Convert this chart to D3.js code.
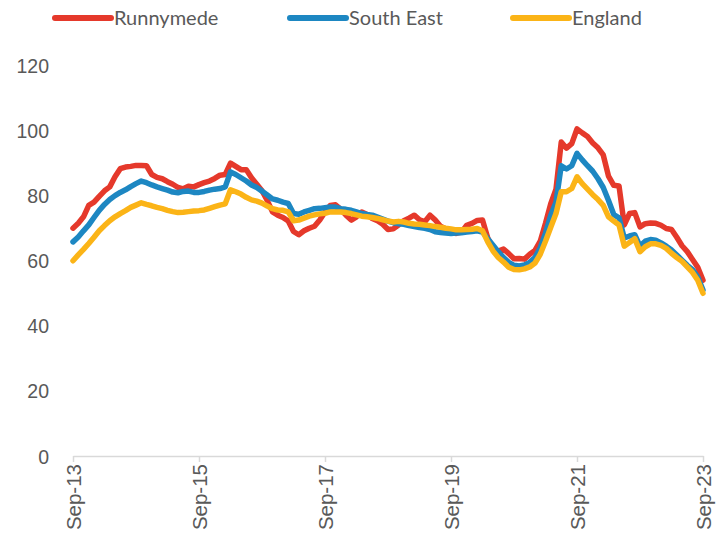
<!DOCTYPE html>
<html>
<head>
<meta charset="utf-8">
<script src="https://cdn.jsdelivr.net/npm/d3@7"></script>
<style>
  body { margin: 0; background: #fff; }
  svg { display: block; font-family: Lato, "Open Sans", sans-serif; }
</style>
</head>
<body>
<svg id="chart" width="724" height="533"></svg>
<script>
// monthly values, Sep-13 .. Sep-23
var seriesNames = ["Runnymede", "South East", "England"];
var seriesColors = ["#e5392b", "#1d87c2", "#fbb417"];

var runnymede = [
  70, 71.5, 73.5, 77, 78, 79.8, 81.5, 82.7, 85.8, 88.3, 88.8, 89, 89.3, 89.3, 89.2, 86.5,
  85.6, 85.2, 84.3, 83.5, 82.5, 82.1, 82.9, 82.7, 83.4, 84, 84.5, 85.3, 86.3, 86.5, 90,
  89, 88, 88, 85.5, 83.5, 81.5, 78.5, 75, 74, 73.3, 72.2, 69, 68, 69.2, 70, 70.6, 72.5,
  75, 77, 77.2, 75.8, 74, 72.5, 73.5, 75, 74.2, 73, 72.3, 71.2, 69.6, 69.8, 71, 72.3,
  73.1, 74, 72.6, 72, 74, 72.5, 70.6, 69.8, 69.1, 68.4, 68.8, 70.9, 71.5, 72.4, 72.5,
  67, 63.8, 63, 63.6, 62.2, 60.6, 60.7, 60.5, 62, 63.2, 66, 71.5, 77.5, 82, 96.5, 94.6,
  96, 100.5, 99.3, 98.2, 96.2, 94.7, 92.5, 86, 83.2, 83, 71, 74.5, 74.8, 70.4, 71.4,
  71.6, 71.5, 70.9, 69.9, 69.6, 67.2, 64.6, 62.8, 60.4, 58, 54
];

var southEast = [
  65.8, 67.3, 69.2, 71, 73.3, 75.5, 77.3, 78.8, 80, 81, 81.8, 82.8, 83.7, 84.5, 84, 83.3,
  82.7, 82.2, 81.7, 81.1, 80.9, 81.3, 81.4, 81, 81, 81.3, 81.7, 82, 82.2, 82.7, 87.3,
  86.5, 85.5, 84.5, 83.3, 82.5, 81.4, 80.2, 79, 78.6, 78, 77.6, 74.5, 74.3, 75, 75.5,
  76, 76.1, 76.3, 76.5, 76.5, 76, 75.8, 75.5, 75, 74.5, 74.2, 74, 73.4, 72.8, 72.2,
  71.7, 71.4, 71.2, 70.8, 70.5, 70.2, 70, 69.6, 68.9, 68.7, 68.5, 68.4, 68.5, 68.6,
  68.8, 69, 69.2, 68.8, 66.8, 64.8, 62.8, 61, 59.5, 58.6, 58.4, 58.7, 59.5, 61, 64,
  68.5, 74, 78, 89.2, 88.2, 89.2, 93, 91, 89.2, 87.5, 85.2, 82.5, 78.5, 74.2, 73.2, 67,
  67.6, 68, 64.5, 66, 66.5, 66.3, 65.5, 64.5, 63.3, 61.8, 60.2, 58.6, 57.3, 55, 51
];

var england = [
  60, 61.8, 63.5, 65.3, 67.2, 69.2, 70.8, 72.3, 73.5, 74.5, 75.4, 76.4, 77.1, 77.8, 77.3,
  76.9, 76.4, 76, 75.5, 75.1, 74.8, 74.9, 75.1, 75.3, 75.4, 75.6, 76.1, 76.6, 77.1, 77.5,
  81.8, 81.2, 80.5, 79.5, 78.7, 78.3, 77.7, 76.8, 76, 75.6, 75.5, 75, 72.3, 72.5, 73.1,
  73.7, 74.1, 74.4, 74.6, 75, 75, 75, 74.8, 74.5, 74.1, 73.7, 73.5, 73.3, 73, 72.6, 72.2,
  71.9, 72.1, 71.9, 71.5, 71.3, 71.2, 71, 70.8, 70.5, 70.3, 70, 69.8, 69.5, 69.5, 69.6,
  69.7, 69.9, 69.2, 65.8, 63, 61, 59.6, 58, 57.3, 57.2, 57.5, 58.1, 59.3, 62, 66, 70.3,
  74.5, 81.2, 81.2, 82.2, 85.8, 83.7, 82, 80.3, 78.8, 77, 73.5, 72.2, 71, 64.5, 65.6,
  66.8, 62.8, 64.3, 65.2, 65.2, 64.7, 63.8, 62.3, 61, 59.8, 58.1, 56.4, 54, 50
];

var yTicks = [0, 20, 40, 60, 80, 100, 120];
var xTickLabels = ["Sep-13", "Sep-15", "Sep-17", "Sep-19", "Sep-21", "Sep-23"];

var allSeries = [runnymede, southEast, england];

var svg = d3.select("#chart");
var textColor = "#595959";

var x = d3.scaleLinear().domain([0, runnymede.length - 1]).range([73, 703]);
var y = d3.scaleLinear().domain([0, 120]).range([456, 65.5]);

// x axis: line + ticks every 24 months
var xAxis = d3.axisBottom(x)
    .tickValues(xTickLabels.map(function(d, i) { return i * 24; }))
    .tickSize(6)
    .tickSizeOuter(0)
    .tickFormat(function(d, i) { return xTickLabels[i]; });

var xg = svg.append("g")
    .attr("transform", "translate(0," + y(0) + ")")
    .call(xAxis);
xg.select(".domain").attr("stroke", "#d9d9d9").attr("stroke-width", 1.5);
xg.selectAll(".tick line").attr("stroke", "#d9d9d9").attr("stroke-width", 1.5);
xg.selectAll(".tick text")
    .attr("fill", textColor)
    .style("font-size", "20.5px")
    .attr("text-anchor", "end")
    .attr("transform", "rotate(-90)")
    .attr("x", -8)
    .attr("y", 0)
    .attr("dy", "0.36em");

// y axis labels only
var yAxis = d3.axisLeft(y).tickValues(yTicks).tickSize(0).tickPadding(0);
var yg = svg.append("g")
    .attr("transform", "translate(49,0)")
    .call(yAxis);
yg.select(".domain").remove();
yg.selectAll(".tick text")
    .attr("fill", textColor)
    .style("font-size", "19.5px")
    .attr("dy", "0.36em");

// lines
var line = d3.line()
    .x(function(d, i) { return x(i); })
    .y(function(d) { return y(d); });

allSeries.forEach(function(s, k) {
  svg.append("path")
      .datum(s)
      .attr("fill", "none")
      .attr("stroke", seriesColors[k])
      .attr("stroke-width", 5.5)
      .attr("stroke-linejoin", "round")
      .attr("stroke-linecap", "round")
      .attr("d", line);
});

// legend
var legendX = [55, 290, 513];
var legend = svg.append("g");
seriesNames.forEach(function(name, k) {
  legend.append("line")
      .attr("x1", legendX[k]).attr("x2", legendX[k] + 56)
      .attr("y1", 18).attr("y2", 18)
      .attr("stroke", seriesColors[k])
      .attr("stroke-width", 6)
      .attr("stroke-linecap", "round");
  legend.append("text")
      .attr("x", legendX[k] + 59)
      .attr("y", 18)
      .attr("dy", "0.36em")
      .attr("fill", textColor)
      .style("font-size", "20px")
      .text(name);
});
</script>
</body>
</html>
